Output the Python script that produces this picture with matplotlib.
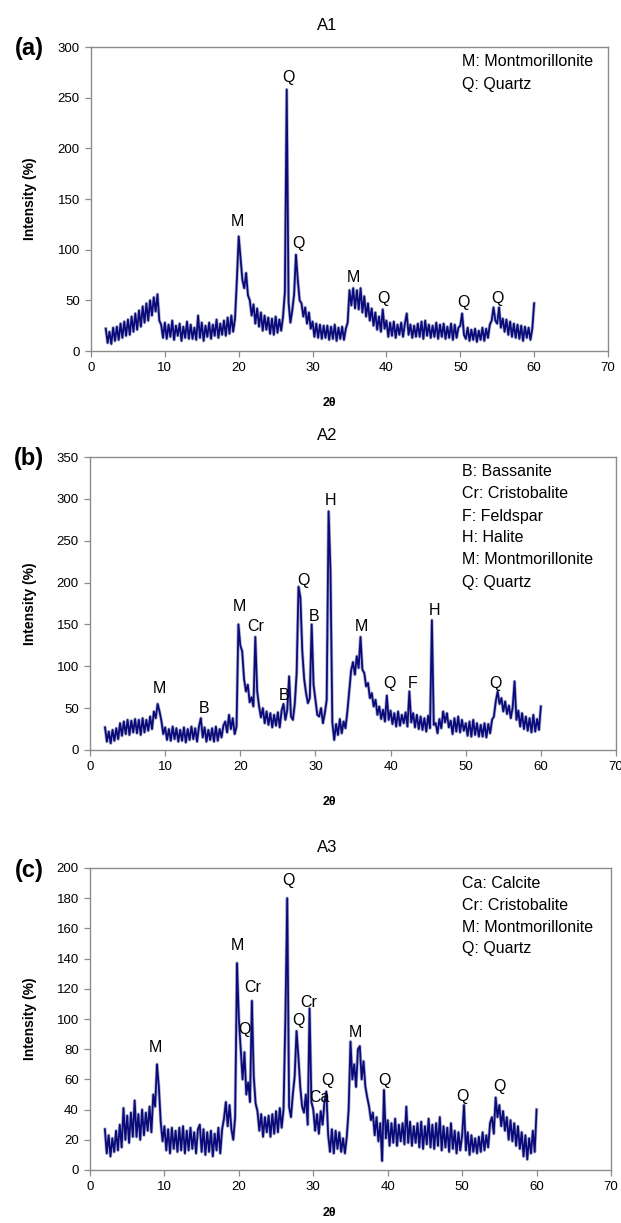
import numpy as np
import matplotlib
matplotlib.use("Agg")
import matplotlib.pyplot as plt

plt.rcParams['font.family'] = ['Liberation Sans', 'DejaVu Sans']

# Scan grid: 2-60 deg 2-theta, 0.25 deg step
scan_start, scan_step, scan_points = 2.0, 0.25, 233
two_theta = scan_start + scan_step * np.arange(scan_points)

# Relative intensity (%) for each sample, 8 readings per row (2 deg per row)
a1_intensity = [
    22, 8, 19, 7, 23, 10, 24, 11,
    27, 13, 29, 15, 31, 16, 34, 19,
    37, 21, 40, 24, 44, 28, 47, 30,
    50, 35, 53, 39, 56, 30, 26, 13,
    28, 12, 26, 14, 30, 11, 25, 15,
    27, 10, 24, 13, 29, 12, 26, 12,
    23, 11, 35, 13, 28, 10, 25, 14,
    28, 12, 26, 15, 31, 13, 27, 16,
    30, 15, 33, 17, 35, 19, 32, 70,
    113, 92, 70, 62, 77, 55, 50, 35,
    46, 27, 42, 24, 38, 20, 35, 21,
    33, 17, 32, 16, 34, 18, 31, 20,
    34, 58, 258, 48, 28, 40, 56, 95,
    70, 50, 47, 34, 43, 27, 38, 22,
    29, 14, 27, 13, 26, 12, 25, 13,
    25, 11, 24, 12, 26, 10, 23, 12,
    24, 11, 22, 28, 60, 45, 62, 42,
    60, 41, 62, 38, 54, 34, 47, 30,
    42, 25, 38, 21, 34, 19, 41, 22,
    30, 14, 28, 15, 29, 13, 26, 16,
    28, 14, 27, 37, 16, 26, 13, 25,
    14, 27, 14, 29, 12, 30, 15, 26,
    13, 25, 14, 28, 12, 26, 14, 27,
    12, 24, 13, 27, 11, 26, 13, 23,
    25, 37, 16, 12, 23, 10, 21, 11,
    22, 9, 20, 11, 23, 10, 22, 13,
    26, 30, 43, 30, 27, 43, 23, 32,
    19, 31, 16, 29, 14, 27, 13, 26,
    12, 25, 10, 24, 13, 23, 11, 22,
    47,
]

a2_intensity = [
    27, 10, 22, 8, 24, 11, 26, 13,
    32, 17, 34, 19, 36, 18, 35, 21,
    37, 20, 36, 18, 38, 21, 36, 23,
    40, 25, 46, 38, 55, 46, 35, 19,
    27, 12, 25, 11, 28, 13, 26, 10,
    24, 11, 27, 9, 25, 12, 28, 13,
    26, 10, 28, 38, 15, 27, 10, 24,
    12, 26, 10, 28, 11, 25, 15, 29,
    34, 21, 42, 25, 38, 19, 28, 150,
    125, 118, 85, 70, 78, 57, 63, 52,
    135, 70, 52, 39, 50, 32, 46, 30,
    44, 27, 42, 29, 45, 27, 47, 55,
    36, 48, 88, 40, 36, 55, 92, 195,
    182, 118, 85, 68, 56, 62, 150, 78,
    60, 42, 40, 50, 32, 44, 60, 285,
    215, 33, 12, 31, 18, 37, 20, 34,
    26, 46, 70, 95, 105, 90, 112, 98,
    135, 96, 92, 76, 80, 62, 68, 52,
    60, 42, 52, 37, 48, 34, 65, 36,
    47, 31, 44, 28, 46, 29, 42, 32,
    45, 28, 70, 33, 44, 27, 42, 25,
    40, 24, 38, 22, 41, 26, 155, 30,
    32, 20, 37, 26, 46, 33, 44, 27,
    35, 19, 38, 22, 40, 21, 36, 23,
    32, 17, 34, 16, 36, 18, 32, 16,
    30, 16, 32, 15, 31, 20, 36, 40,
    58, 70, 55, 62, 46, 58, 43, 53,
    38, 51, 82, 36, 47, 28, 44, 25,
    40, 23, 38, 21, 42, 22, 37, 24,
    52,
]

a3_intensity = [
    27, 11, 23, 9, 21, 12, 26, 13,
    30, 15, 41, 20, 36, 18, 38, 22,
    46, 22, 37, 20, 40, 23, 38, 26,
    42, 25, 50, 42, 70, 55, 32, 19,
    29, 13, 27, 11, 28, 14, 26, 12,
    28, 13, 29, 11, 26, 13, 28, 14,
    25, 11, 27, 30, 12, 27, 10, 25,
    12, 26, 9, 24, 13, 28, 11, 27,
    34, 45, 29, 43, 27, 20, 35, 137,
    100, 80, 60, 78, 50, 58, 45, 112,
    62, 44, 39, 26, 37, 22, 35, 25,
    36, 22, 37, 24, 39, 25, 41, 28,
    40, 100, 180, 42, 35, 50, 62, 92,
    75, 55, 42, 38, 50, 30, 107, 45,
    40, 26, 37, 24, 39, 30, 45, 52,
    23, 12, 27, 11, 26, 14, 25, 12,
    21, 11, 22, 40, 85, 60, 70, 55,
    80, 82, 60, 72, 55, 48, 42, 33,
    38, 23, 35, 19, 31, 6, 53, 21,
    33, 16, 31, 18, 34, 16, 30, 19,
    31, 17, 42, 18, 32, 16, 29, 18,
    31, 15, 32, 14, 29, 17, 34, 15,
    30, 14, 31, 16, 35, 13, 29, 15,
    28, 12, 31, 14, 26, 11, 25, 13,
    23, 43, 13, 25, 10, 23, 12, 21,
    11, 22, 12, 25, 13, 23, 15, 31,
    35, 24, 48, 35, 43, 29, 39, 26,
    35, 20, 33, 19, 31, 16, 29, 14,
    25, 9, 23, 7, 21, 11, 26, 12,
    40,
]

sample_names = ['A1', 'A2', 'A3']
panel_tags = ['(a)', '(b)', '(c)']
y_limits = [300, 350, 200]
y_steps = [50, 50, 20]

phase_keys = [
    ['M: Montmorillonite', 'Q: Quartz'],
    ['B: Bassanite', 'Cr: Cristobalite', 'F: Feldspar', 'H: Halite',
     'M: Montmorillonite', 'Q: Quartz'],
    ['Ca: Calcite', 'Cr: Cristobalite', 'M: Montmorillonite', 'Q: Quartz'],
]

# Phase identifications: (symbol, 2-theta, intensity at label)
peak_tags = [
    [('M', 19.8, 128), ('Q', 26.7, 270), ('Q', 28.1, 106), ('M', 35.6, 73),
     ('Q', 39.6, 52), ('Q', 50.4, 48), ('Q', 55.0, 52)],
    [('M', 9.2, 73), ('B', 15.2, 49), ('M', 19.9, 171), ('Cr', 22.1, 147),
     ('B', 25.8, 65), ('Q', 28.4, 203), ('B', 29.8, 160), ('H', 32.0, 298),
     ('M', 36.1, 147), ('Q', 39.8, 79), ('F', 42.9, 79), ('H', 45.8, 167),
     ('Q', 54.0, 79)],
    [('M', 8.8, 81), ('M', 19.8, 149), ('Cr', 21.9, 121), ('Q', 20.8, 93),
     ('Q', 26.7, 192), ('Q', 28.0, 99), ('Cr', 29.4, 111), ('Ca', 30.8, 48),
     ('Q', 31.9, 59), ('M', 35.6, 91), ('Q', 39.6, 59), ('Q', 50.1, 49),
     ('Q', 55.0, 55)],
]

W, H = 621, 1223
fig = plt.figure(figsize=(W / 100, H / 100), dpi=100)

# per panel, in pixels: axes left/right/top/bottom
boxes = [(91, 608, 47, 351), (90, 616, 457, 750), (90, 611, 868, 1170)]
key_x = 462
series = [a1_intensity, a2_intensity, a3_intensity]
spine_grey = '#8c8c8c'

for i, (l, r, t, b) in enumerate(boxes):
    ax = fig.add_axes([l / W, 1 - b / H, (r - l) / W, (b - t) / H])
    y = np.asarray(series[i], dtype=float)
    ax.plot(two_theta, y, color='#7d82ad', lw=2.4, alpha=0.6)
    ax.plot(two_theta, y, color='#0a0a7a', lw=1.3)

    ax.set_xlim(0, 70)
    ax.set_ylim(0, y_limits[i])
    ax.set_xticks(np.arange(0, 71, 10))
    ax.set_yticks(np.arange(0, y_limits[i] + 1, y_steps[i]))
    ax.tick_params(direction='out', length=4, width=0.9, color=spine_grey,
                   labelsize=9.5, pad=4)
    for s in ax.spines.values():
        s.set_color(spine_grey)
        s.set_linewidth(1.0)

    for sym, xx, yy in peak_tags[i]:
        ax.text(xx, yy, sym, ha='center', va='center', fontsize=11.5)

    for k, line in enumerate(phase_keys[i]):
        fig.text(key_x / W, 1 - (t + 15 + 22 * k) / H, line,
                 ha='left', va='center', fontsize=11.5)

    fig.text(327 / W, 1 - (t - 21) / H, sample_names[i], ha='center',
             va='center', fontsize=12)
    fig.text(29 / W, 1 - (t + 2) / H, panel_tags[i], ha='center',
             va='center', fontsize=17, fontweight='bold')
    fig.text(30 / W, 1 - ((t + b) / 2) / H, 'Intensity (%)', rotation=90,
             ha='center', va='center', fontsize=10, fontweight='bold')
    fig.text(329 / W, 1 - min(b + 52, H - 10) / H, '2θ', ha='center',
             va='center', fontsize=9, fontweight='bold')

fig.savefig('out.png', dpi=100)
